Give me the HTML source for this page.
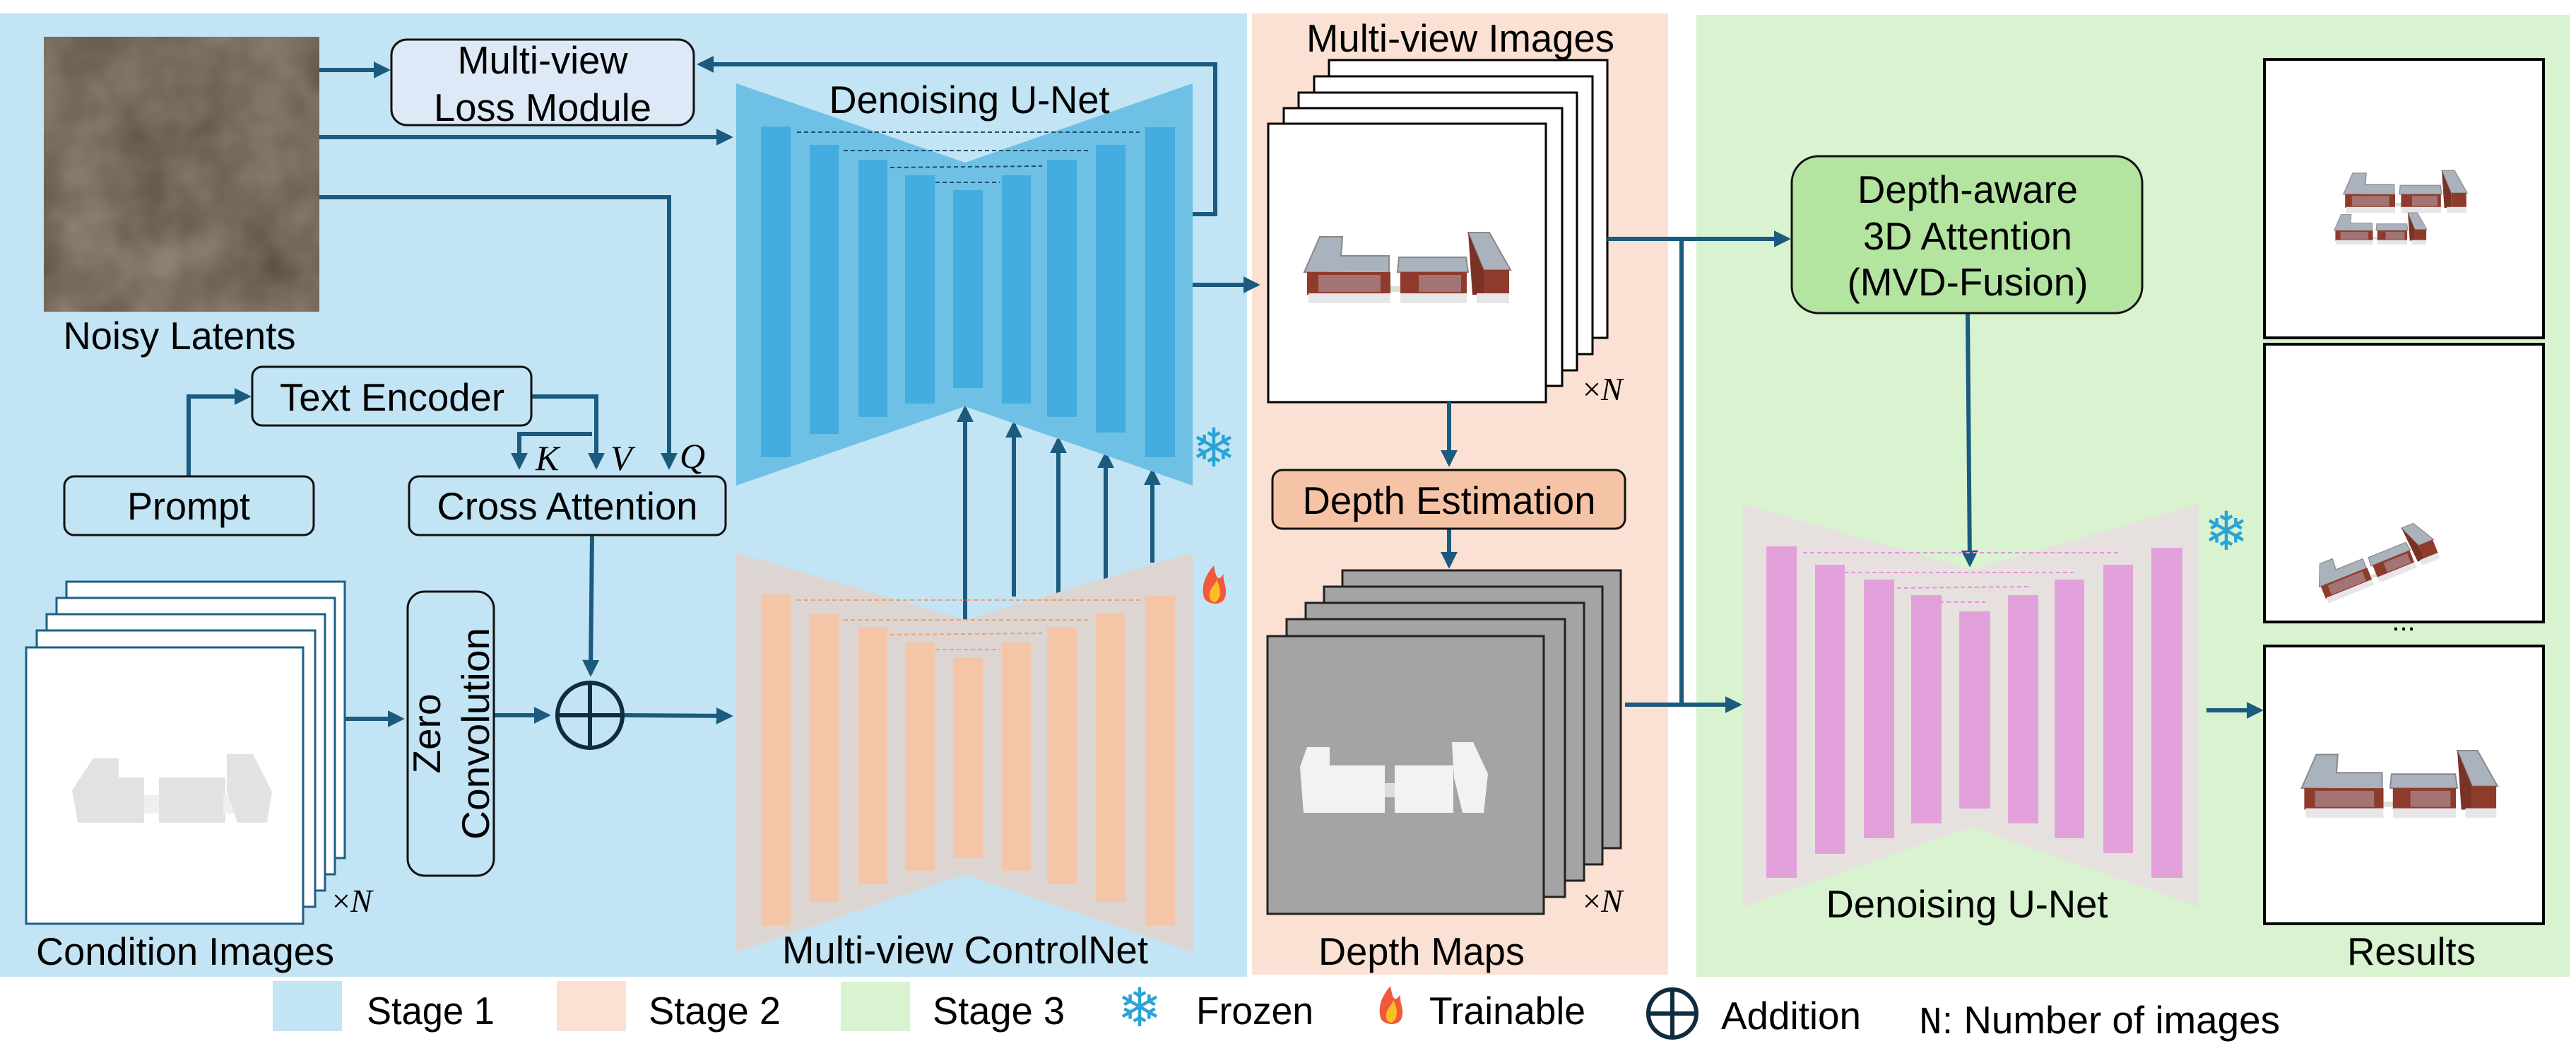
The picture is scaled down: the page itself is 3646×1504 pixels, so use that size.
<!DOCTYPE html>
<html><head><meta charset="utf-8"><style>html,body{margin:0;padding:0;background:#fff}svg{display:block}</style></head>
<body>
<svg width="3646" height="1504" viewBox="0 0 3646 1504" xmlns="http://www.w3.org/2000/svg" font-family="Liberation Sans, Arial, sans-serif">
<defs>
<marker id="ah" markerWidth="4" markerHeight="4" refX="3.2" refY="2" orient="auto" markerUnits="strokeWidth"><path d="M0,0 L4,2 L0,4 z" fill="#1a5b7e"/></marker>
<filter id="noise" x="0" y="0" width="100%" height="100%"><feTurbulence type="fractalNoise" baseFrequency="0.012" numOctaves="3" seed="7"/><feColorMatrix type="matrix" values="0 0 0 0 0.30  0 0 0 0 0.26  0 0 0 0 0.21  0 0 0 -1.1 1.0"/></filter>
<g id="bld">
 <path d="M8,58 L30,8 L62,8 L60,35 L128,35 L128,60 Z" fill="#a9b2bd" stroke="#888" stroke-width="2"/>
 <rect x="12" y="58" width="118" height="32" fill="#8e3b2c"/>
 <rect x="14" y="88" width="116" height="14" fill="#e6e6e8"/>
 <rect x="28" y="62" width="88" height="24" fill="#b39aa4" opacity="0.6"/>
 <rect x="130" y="78" width="20" height="8" fill="#ddd"/>
 <path d="M142,37 L237,37 L240,58 L140,58 Z" fill="#a9b2bd" stroke="#888" stroke-width="2"/>
 <rect x="144" y="58" width="94" height="32" fill="#8e3b2c"/>
 <rect x="144" y="88" width="94" height="14" fill="#e6e6e8"/>
 <rect x="170" y="62" width="60" height="24" fill="#b39aa4" opacity="0.6"/>
 <path d="M240,2 L270,2 L300,55 L262,55 Z" fill="#a9b2bd" stroke="#888" stroke-width="2"/>
 <path d="M240,2 L262,55 L262,90 L246,90 Z" fill="#7a3226"/>
 <rect x="262" y="55" width="36" height="35" fill="#8e3b2c"/>
 <rect x="252" y="88" width="46" height="14" fill="#e6e6e8"/>
</g>
</defs>

<!-- backgrounds -->
<rect x="0" y="19" width="1765" height="1363" fill="#c2e4f4"/>
<rect x="1772" y="19" width="589" height="1360" fill="#fbe1d4"/>
<rect x="2401" y="21" width="1236" height="1361" fill="#d9f2d0"/>

<!-- Noisy latents -->
<rect x="62" y="52" width="390" height="389" fill="#5f5243"/>
<rect x="62" y="52" width="390" height="389" filter="url(#noise)"/>
<text x="254" y="494" font-size="55" text-anchor="middle" textLength="329" lengthAdjust="spacingAndGlyphs">Noisy Latents</text>

<!-- Loss module -->
<rect x="554" y="56" width="428" height="121" rx="22" fill="#dde9f6" stroke="#111" stroke-width="3"/>
<text x="768" y="104" font-size="55" text-anchor="middle" textLength="241" lengthAdjust="spacingAndGlyphs">Multi-view</text>
<text x="768" y="171" font-size="55" text-anchor="middle" textLength="308" lengthAdjust="spacingAndGlyphs">Loss Module</text>

<g stroke="#1a5b7e" stroke-width="6" fill="none">
 <path d="M452,99 L548,99" marker-end="url(#ah)"/>
 <path d="M452,194 L1033,194" marker-end="url(#ah)"/>
 <path d="M452,279 L947,279 L947,660" marker-end="url(#ah)"/>
 <path d="M1688,303 L1720,303 L1720,91 L991,91" marker-end="url(#ah)"/>
 <path d="M1688,403 L1779,403" marker-end="url(#ah)"/>
 <path d="M267,674 L267,561 L351,561" marker-end="url(#ah)"/>
 <path d="M752,561 L844,561 L844,660" marker-end="url(#ah)"/>
 <path d="M838,614 L735,614 L735,660" marker-end="url(#ah)"/>
 <path d="M838,757 L836,953" marker-end="url(#ah)"/>
 <path d="M488,1017 L568,1017" marker-end="url(#ah)"/>
 <path d="M699,1012 L775,1012" marker-end="url(#ah)"/>
 <path d="M884,1012 L1033,1013" marker-end="url(#ah)"/>
 <path d="M1366,901 L1366,578" marker-end="url(#ah)"/>
 <path d="M1435,844 L1435,600" marker-end="url(#ah)"/>
 <path d="M1498,852 L1498,622" marker-end="url(#ah)"/>
 <path d="M1565,827 L1565,643" marker-end="url(#ah)"/>
 <path d="M1631,796 L1631,667" marker-end="url(#ah)"/>
</g>

<!-- Text encoder, prompt, cross attention -->
<rect x="357" y="519" width="395" height="83" rx="14" fill="#c2e4f4" stroke="#111" stroke-width="3"/>
<text x="555" y="581" font-size="55" text-anchor="middle" textLength="318" lengthAdjust="spacingAndGlyphs">Text Encoder</text>
<rect x="91" y="674" width="353" height="83" rx="14" fill="#c2e4f4" stroke="#111" stroke-width="3"/>
<text x="267" y="735" font-size="55" text-anchor="middle" textLength="174" lengthAdjust="spacingAndGlyphs">Prompt</text>
<rect x="579" y="674" width="448" height="83" rx="14" fill="#c2e4f4" stroke="#111" stroke-width="3"/>
<text x="803" y="735" font-size="55" text-anchor="middle" textLength="369" lengthAdjust="spacingAndGlyphs">Cross Attention</text>
<g font-family="Liberation Serif, serif" font-style="italic" font-size="50">
 <text x="758" y="665">K</text><text x="864" y="665">V</text><text x="962" y="662">Q</text>
</g>

<!-- Condition images -->
<g fill="#fff" stroke="#1f5f85" stroke-width="3">
 <rect x="94" y="823" width="394" height="391"/>
 <rect x="80" y="846" width="394" height="391"/>
 <rect x="66" y="869" width="394" height="391"/>
 <rect x="52" y="892" width="394" height="391"/>
 <rect x="37" y="916" width="392" height="391"/>
</g>
<g fill="#e2e2e2">
 <path d="M102,1118 L132,1073 L168,1073 L168,1100 L204,1100 L204,1164 L110,1164 Z"/>
 <rect x="204" y="1125" width="25" height="26" fill="#efefef"/>
 <rect x="225" y="1100" width="94" height="64"/>
 <rect x="316" y="1125" width="20" height="26" fill="#efefef"/>
 <path d="M321,1067 L358,1067 L385,1120 L378,1164 L336,1164 L321,1120 Z"/>
</g>
<text x="470" y="1290" font-size="46" font-family="Liberation Serif, serif">×<tspan font-style="italic">N</tspan></text>
<text x="262" y="1365" font-size="55" text-anchor="middle" textLength="422" lengthAdjust="spacingAndGlyphs">Condition Images</text>

<!-- Zero conv -->
<rect x="577" y="837" width="122" height="402" rx="24" fill="#c2e4f4" stroke="#111" stroke-width="3"/>
<text transform="translate(623,1038) rotate(-90)" font-size="55" text-anchor="middle">Zero</text>
<text transform="translate(692,1038) rotate(-90)" font-size="55" text-anchor="middle" textLength="300" lengthAdjust="spacingAndGlyphs">Convolution</text>

<!-- addition circle -->
<circle cx="835" cy="1012" r="46" fill="none" stroke="#0f2d3f" stroke-width="6"/>
<path d="M789,1012 L881,1012 M835,966 L835,1058" stroke="#0f2d3f" stroke-width="6"/>

<!-- Denoising U-Net (blue) -->
<polygon points="1042,118 1366,230 1688,118 1688,687 1366,575 1042,687" fill="#6ec1e4"/>
<g fill="#44ade0">
 <rect x="1077" y="179" width="42" height="468"/><rect x="1146" y="205" width="41" height="409"/>
 <rect x="1215" y="226" width="41" height="364"/><rect x="1281" y="248" width="42" height="323"/>
 <rect x="1349" y="269" width="42" height="280"/><rect x="1418" y="248" width="41" height="323"/>
 <rect x="1482" y="226" width="42" height="364"/><rect x="1551" y="205" width="42" height="407"/>
 <rect x="1621" y="180" width="42" height="467"/>
</g>
<g stroke="#1d4e6e" stroke-width="2" stroke-dasharray="6,4">
 <path d="M1128,187 L1613,187 M1194,213 L1542,213 M1260,237 L1475,235 M1324,258 L1415,258"/>
</g>
<text x="1372" y="160" font-size="55" text-anchor="middle" textLength="397" lengthAdjust="spacingAndGlyphs">Denoising U-Net</text>
<text x="1718" y="660" font-size="76" text-anchor="middle" fill="#2aa3d6">❄</text>

<!-- ControlNet -->
<polygon points="1042,782 1366,877 1688,782 1688,1347 1366,1237 1042,1347" fill="#dcd5d1"/>
<g fill="#f5c5a8">
 <rect x="1077" y="841" width="42" height="468"/><rect x="1146" y="869" width="41" height="407"/>
 <rect x="1215" y="887" width="41" height="364"/><rect x="1281" y="909" width="42" height="323"/>
 <rect x="1349" y="930" width="42" height="283"/><rect x="1418" y="909" width="41" height="323"/>
 <rect x="1482" y="887" width="42" height="364"/><rect x="1551" y="868" width="42" height="408"/>
 <rect x="1621" y="843" width="42" height="466"/>
</g>
<g stroke="#f0a070" stroke-width="2" stroke-dasharray="6,4">
 <path d="M1128,849 L1613,849 M1194,877 L1542,877 M1260,898 L1475,896 M1324,919 L1415,919"/>
</g>
<path d="M1718,800 C1705,815 1700,830 1704,845 C1708,856 1730,858 1734,845 C1738,832 1730,822 1732,812 C1726,820 1722,824 1718,800 Z" fill="#f05a3a"/>
<path d="M1712,840 C1714,830 1720,828 1722,820 C1728,832 1730,845 1720,852 C1714,852 1711,846 1712,840 Z" fill="#fbbf24"/>
<text x="1366" y="1363" font-size="55" text-anchor="middle" textLength="518" lengthAdjust="spacingAndGlyphs">Multi-view ControlNet</text>

<!-- Stage 2 -->
<text x="2067" y="73" font-size="55" text-anchor="middle" textLength="436" lengthAdjust="spacingAndGlyphs">Multi-view Images</text>
<g fill="#fff" stroke="#000" stroke-width="3">
 <rect x="1881" y="85" width="394" height="393"/>
 <rect x="1860" y="108" width="394" height="393"/>
 <rect x="1838" y="131" width="394" height="393"/>
 <rect x="1817" y="153" width="394" height="393"/>
 <rect x="1795" y="175" width="393" height="394"/>
</g>
<use href="#bld" transform="translate(1838,327) scale(1.0)"/>
<text x="2240" y="566" font-size="46" font-family="Liberation Serif, serif">×<tspan font-style="italic">N</tspan></text>

<g stroke="#1a5b7e" stroke-width="6" fill="none">
 <path d="M2051,569 L2051,656" marker-end="url(#ah)"/>
 <path d="M2051,748 L2051,800" marker-end="url(#ah)"/>
 <path d="M2275,338 L2530,338" marker-end="url(#ah)"/>
 <path d="M2380,338 L2380,997"/>
 <path d="M2300,997 L2461,997" marker-end="url(#ah)"/>
 <path d="M2785,443 L2788,798" marker-end="url(#ah)"/>
 <path d="M3123,1005 L3199,1005" marker-end="url(#ah)"/>
</g>

<rect x="1801" y="665" width="499" height="83" rx="14" fill="#f5c4a6" stroke="#111" stroke-width="3"/>
<text x="2051" y="727" font-size="55" text-anchor="middle" textLength="415" lengthAdjust="spacingAndGlyphs">Depth Estimation</text>

<g fill="#a4a4a4" stroke="#222" stroke-width="3">
 <rect x="1900" y="807" width="394" height="393"/>
 <rect x="1874" y="830" width="394" height="393"/>
 <rect x="1848" y="853" width="394" height="393"/>
 <rect x="1821" y="876" width="394" height="393"/>
 <rect x="1794" y="900" width="391" height="393"/>
</g>
<g fill="#f2f2f2">
 <path d="M1840,1085 L1850,1057 L1882,1057 L1882,1083 L1960,1083 L1960,1150 L1845,1150 Z"/>
 <rect x="1960" y="1108" width="18" height="20" fill="#ddd"/>
 <rect x="1974" y="1083" width="83" height="67"/>
 <path d="M2055,1050 L2085,1050 L2106,1095 L2100,1150 L2070,1150 L2058,1100 Z"/>
</g>
<text x="2240" y="1290" font-size="46" font-family="Liberation Serif, serif">×<tspan font-style="italic">N</tspan></text>
<text x="2012" y="1365" font-size="55" text-anchor="middle" textLength="292" lengthAdjust="spacingAndGlyphs">Depth Maps</text>

<!-- Stage 3 -->
<rect x="2536" y="221" width="496" height="222" rx="38" fill="#b3e4a0" stroke="#111" stroke-width="3"/>
<text x="2785" y="287" font-size="55" text-anchor="middle" textLength="312" lengthAdjust="spacingAndGlyphs">Depth-aware</text>
<text x="2785" y="353" font-size="55" text-anchor="middle" textLength="296" lengthAdjust="spacingAndGlyphs">3D Attention</text>
<text x="2785" y="418" font-size="55" text-anchor="middle" textLength="341" lengthAdjust="spacingAndGlyphs">(MVD-Fusion)</text>

<polygon points="2467,713 2790,806 3112,713 3112,1283 2790,1170 2467,1283" fill="#e6e1de"/>
<g fill="#e3a1dc">
 <rect x="2500" y="773" width="43" height="469"/><rect x="2569" y="799" width="42" height="409"/>
 <rect x="2638" y="820" width="43" height="366"/><rect x="2705" y="842" width="43" height="323"/>
 <rect x="2773" y="865" width="44" height="279"/><rect x="2842" y="842" width="43" height="323"/>
 <rect x="2908" y="820" width="42" height="366"/><rect x="2977" y="799" width="42" height="408"/>
 <rect x="3045" y="775" width="44" height="467"/>
</g>
<g stroke="#e98fdf" stroke-width="2" stroke-dasharray="6,4">
 <path d="M2552,782 L3002,782 M2610,810 L2935,810 M2685,832 L2873,830 M2745,852 L2810,852"/>
</g>
<text x="2784" y="1298" font-size="55" text-anchor="middle" textLength="399" lengthAdjust="spacingAndGlyphs">Denoising U-Net</text>
<text x="3151" y="778" font-size="76" text-anchor="middle" fill="#2aa3d6">❄</text>

<g fill="#fff" stroke="#000" stroke-width="4">
 <rect x="3205" y="84" width="395" height="394"/>
 <rect x="3205" y="487" width="395" height="393"/>
 <rect x="3205" y="914" width="395" height="393"/>
</g>
<use href="#bld" transform="translate(3312,240) scale(0.6)"/>
<use href="#bld" transform="translate(3300,300) scale(0.45)"/>
<use href="#bld" transform="translate(3265,800) rotate(-22) scale(0.6)"/>
<use href="#bld" transform="translate(3250,1060) scale(0.95)"/>
<text x="3402" y="892" font-size="40" text-anchor="middle">...</text>
<text x="3413" y="1365" font-size="55" text-anchor="middle" textLength="182" lengthAdjust="spacingAndGlyphs">Results</text>

<!-- Legend -->
<rect x="386" y="1388" width="98" height="71" fill="#c2e4f4"/>
<text x="519" y="1449" font-size="55" textLength="181" lengthAdjust="spacingAndGlyphs">Stage 1</text>
<rect x="788" y="1388" width="98" height="71" fill="#fbe1d4"/>
<text x="918" y="1449" font-size="55" textLength="187" lengthAdjust="spacingAndGlyphs">Stage 2</text>
<rect x="1190" y="1389" width="98" height="70" fill="#d9f2d0"/>
<text x="1320" y="1449" font-size="55" textLength="187" lengthAdjust="spacingAndGlyphs">Stage 3</text>
<text x="1613" y="1452" font-size="76" text-anchor="middle" fill="#2aa3d6">❄</text>
<text x="1693" y="1449" font-size="55" textLength="166" lengthAdjust="spacingAndGlyphs">Frozen</text>
<path d="M1968,1395 C1955,1410 1950,1425 1954,1440 C1958,1451 1980,1453 1984,1440 C1988,1427 1980,1417 1982,1407 C1976,1415 1972,1419 1968,1395 Z" fill="#f05a3a"/>
<path d="M1962,1435 C1964,1425 1970,1423 1972,1415 C1978,1427 1980,1440 1970,1447 C1964,1447 1961,1441 1962,1435 Z" fill="#fbbf24"/>
<text x="2023" y="1449" font-size="55" textLength="221" lengthAdjust="spacingAndGlyphs">Trainable</text>
<circle cx="2367" cy="1434" r="34" fill="none" stroke="#0f2d3f" stroke-width="6"/>
<path d="M2333,1434 L2401,1434 M2367,1400 L2367,1468" stroke="#0f2d3f" stroke-width="6"/>
<text x="2436" y="1456" font-size="55" textLength="198" lengthAdjust="spacingAndGlyphs">Addition</text>
<text x="2716" y="1462" font-size="55" textLength="511" lengthAdjust="spacingAndGlyphs"><tspan font-family="Liberation Mono, monospace">N</tspan>: Number of images</text>
</svg>
</body></html>
